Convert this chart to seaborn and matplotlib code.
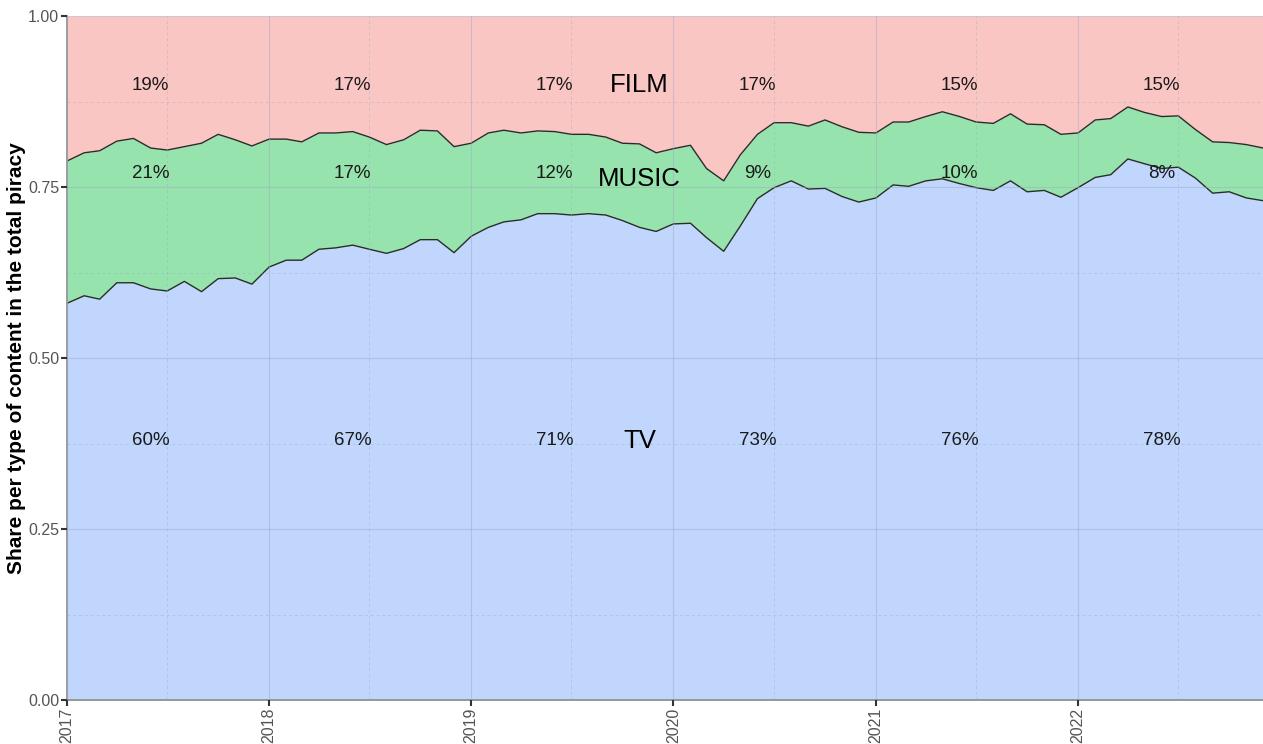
import matplotlib
matplotlib.use("Agg")
import matplotlib.pyplot as plt
import matplotlib.dates as mdates
import numpy as np
import pandas as pd
import seaborn as sns

# monthly shares, Jan 2017 .. Dec 2022
months = pd.date_range("2017-01-01", "2022-12-01", freq="MS")

tv_share = [
    0.580, 0.591, 0.586, 0.610, 0.610, 0.601, 0.598, 0.612, 0.597, 0.616, 0.617, 0.608,
    0.633, 0.643, 0.643, 0.659, 0.661, 0.665, 0.659, 0.653, 0.660, 0.673, 0.673, 0.654,
    0.678, 0.691, 0.699, 0.702, 0.711, 0.711, 0.709, 0.711, 0.709, 0.701, 0.691, 0.685,
    0.696, 0.697, 0.676, 0.656, 0.693, 0.733, 0.749, 0.759, 0.747, 0.748, 0.736, 0.728,
    0.734, 0.753, 0.751, 0.759, 0.762, 0.755, 0.749, 0.745, 0.759, 0.743, 0.745, 0.735,
    0.749, 0.764, 0.768, 0.791, 0.784, 0.777, 0.779, 0.763, 0.741, 0.743, 0.734, 0.730,
]
music_share = [
    0.208, 0.209, 0.217, 0.207, 0.211, 0.206, 0.206, 0.197, 0.217, 0.211, 0.202, 0.202,
    0.187, 0.177, 0.173, 0.170, 0.168, 0.166, 0.164, 0.159, 0.159, 0.160, 0.159, 0.155,
    0.136, 0.138, 0.134, 0.127, 0.121, 0.120, 0.118, 0.116, 0.114, 0.113, 0.122, 0.115,
    0.110, 0.114, 0.101, 0.103, 0.104, 0.094, 0.095, 0.085, 0.092, 0.100, 0.102, 0.102,
    0.095, 0.092, 0.094, 0.094, 0.098, 0.098, 0.096, 0.098, 0.098, 0.099, 0.096, 0.092,
    0.080, 0.084, 0.082, 0.076, 0.075, 0.076, 0.075, 0.071, 0.075, 0.072, 0.078, 0.077,
]
film_share = [
    0.212, 0.200, 0.197, 0.183, 0.179, 0.193, 0.196, 0.191, 0.186, 0.173, 0.181, 0.190,
    0.180, 0.180, 0.184, 0.171, 0.171, 0.169, 0.177, 0.188, 0.181, 0.167, 0.168, 0.191,
    0.186, 0.171, 0.167, 0.171, 0.168, 0.169, 0.173, 0.173, 0.177, 0.186, 0.187, 0.200,
    0.194, 0.189, 0.223, 0.241, 0.203, 0.173, 0.156, 0.156, 0.161, 0.152, 0.162, 0.170,
    0.171, 0.155, 0.155, 0.147, 0.140, 0.147, 0.155, 0.157, 0.143, 0.158, 0.159, 0.173,
    0.171, 0.152, 0.150, 0.133, 0.141, 0.147, 0.146, 0.166, 0.184, 0.185, 0.188, 0.193,
]

# yearly labels
label_years = [2017, 2018, 2019, 2020, 2021, 2022]
tv_labels = ["60%", "67%", "71%", "73%", "76%", "78%"]
music_labels = ["21%", "17%", "12%", "9%", "10%", "8%"]
film_labels = ["19%", "17%", "17%", "17%", "15%", "15%"]

categories = ["TV", "MUSIC", "FILM"]
colors = ["#c0d6fd", "#97e3ad", "#f9c6c4"]

sns.set_theme(style="white")
plt.rcParams["font.family"] = ["Liberation Sans", "DejaVu Sans"]

fig = plt.figure(figsize=(12.63, 7.44), dpi=100)
ax = fig.add_axes([67 / 1263, 1 - 700 / 744, 1 - 67 / 1263, (700 - 16) / 744])

ax.stackplot(months, tv_share, music_share, film_share, colors=colors,
             labels=categories, linewidth=0)

df = pd.DataFrame({"month": months,
                   "tv_top": np.array(tv_share),
                   "music_top": np.array(tv_share) + np.array(music_share)})
sns.lineplot(data=df, x="month", y="tv_top", color="#2b2b2b", linewidth=1.0, ax=ax)
sns.lineplot(data=df, x="month", y="music_top", color="#2b2b2b", linewidth=1.0, ax=ax)

ax.set_xlim(months[0], months[-1])
ax.set_ylim(0, 1)

# grid
ax.xaxis.set_major_locator(mdates.YearLocator())
ax.xaxis.set_major_formatter(mdates.DateFormatter("%Y"))
ax.xaxis.set_minor_locator(mdates.MonthLocator(bymonth=7))
ax.set_yticks([0, 0.25, 0.5, 0.75, 1.0])
ax.set_yticklabels(["0.00", "0.25", "0.50", "0.75", "1.00"])
ax.set_yticks([0.125, 0.375, 0.625, 0.875], minor=True)
ax.grid(which="major", color="#9aa8c4", linewidth=0.8, alpha=0.45)
ax.grid(which="minor", color="#9aa8c4", linewidth=0.7, linestyle=(0, (3, 3)), alpha=0.4)
ax.set_axisbelow(False)

for side in ["top", "right"]:
    ax.spines[side].set_visible(False)
for side in ["left", "bottom"]:
    ax.spines[side].set_color("#8a8a8a")
    ax.spines[side].set_linewidth(1.2)

ax.tick_params(axis="both", which="major", length=4, width=1.5, color="#333333",
               labelcolor="#555555", labelsize=11.5, bottom=True, left=True, pad=1.5)
ax.tick_params(axis="both", which="minor", length=0)
plt.setp(ax.get_xticklabels(), rotation=90, va="top", ha="center")

ax.set_xlabel("")
ax.set_ylabel("Share per type of content in the total piracy", fontsize=15,
              fontweight="bold", color="black")
ax.yaxis.set_label_coords(-0.034, 0.5)

# per-year percentages
for yr, t, m, f in zip(label_years, tv_labels, music_labels, film_labels):
    x = pd.Timestamp(f"{yr}-06-01")
    ax.text(x, 0.899, f, ha="center", va="center", fontsize=13.5, color="#1a1a1a")
    ax.text(x, 0.770, m, ha="center", va="center", fontsize=13.5, color="#1a1a1a")
    ax.text(x, 0.379, t, ha="center", va="center", fontsize=13.5, color="#1a1a1a")

# category names
xc = pd.Timestamp("2019-11-01")
ax.text(xc, 0.899, "FILM", ha="center", va="center", fontsize=18.5, color="black")
ax.text(xc, 0.762, "MUSIC", ha="center", va="center", fontsize=18.5, color="black")
ax.text(xc, 0.379, "TV", ha="center", va="center", fontsize=18.5, color="black")

if ax.get_legend() is not None:
    ax.get_legend().remove()

fig.savefig("out.png", dpi=100)
